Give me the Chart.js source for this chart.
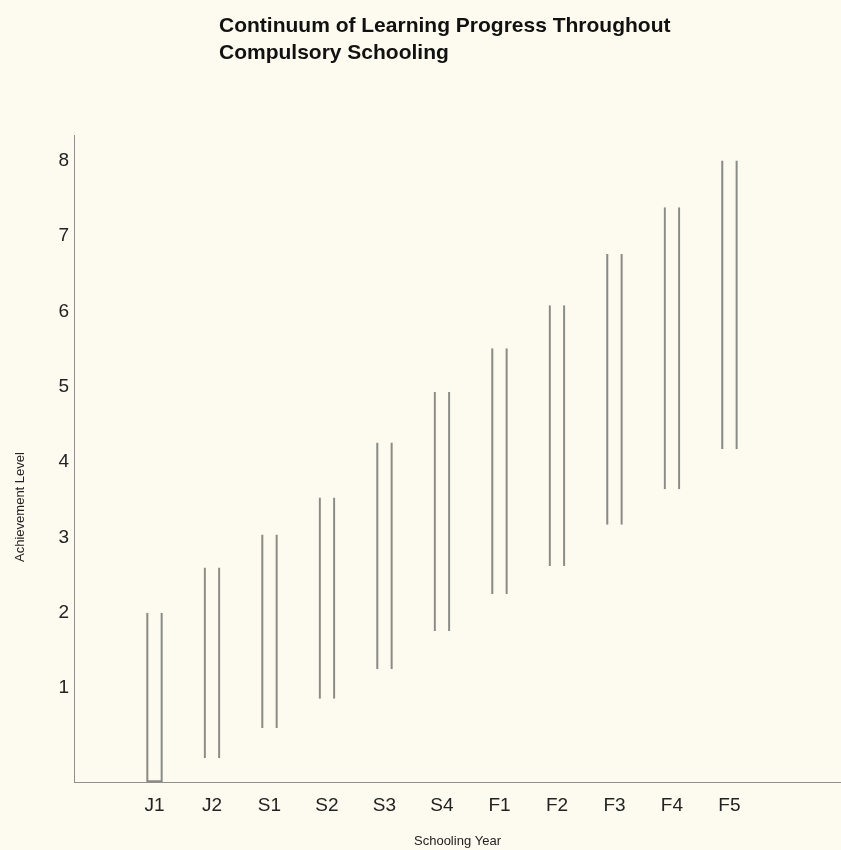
<!DOCTYPE html>
<html>
<head>
<meta charset="utf-8">
<script src="https://cdn.jsdelivr.net/npm/chart.js@4"></script>
<style>
  html, body { margin: 0; padding: 0; background: #fdfbef; }
  #wrap { width: 841px; height: 850px; }
</style>
</head>
<body>
<div id="wrap"><canvas id="myChart"></canvas></div>
<script>
// values
const years = ['J1', 'J2', 'S1', 'S2', 'S3', 'S4', 'F1', 'F2', 'F3', 'F4', 'F5'];
const lowLevels = [-0.245, 0.07, 0.47, 0.86, 1.25, 1.76, 2.25, 2.62, 3.17, 3.64, 4.17];
const highLevels = [2.0, 2.6, 3.04, 3.53, 4.26, 4.93, 5.51, 6.08, 6.76, 7.38, 8.0];
const levelTicks = [1, 2, 3, 4, 5, 6, 7, 8];
const titleLines = ['Continuum of Learning Progress Throughout', 'Compulsory Schooling'];

const fontName = '"Liberation Sans", Arial, Helvetica, sans-serif';
const lineColor = '#8a8a86';

// bars at 0..10 on a linear axis
const barData = years.map((y, i) => ({ x: i, y: [lowLevels[i], highLevels[i]] }));

const textPlugin = {
    id: 'textPlugin',
    beforeDraw(chart) {
        const ctx = chart.ctx;
        ctx.save();
        ctx.fillStyle = '#fdfbef';
        ctx.fillRect(0, 0, chart.width, chart.height);
        ctx.restore();
    },
    afterDraw(chart) {
        const ctx = chart.ctx;
        ctx.save();
        ctx.fillStyle = '#111';
        ctx.font = 'bold 21px ' + fontName;
        ctx.textBaseline = 'middle';
        ctx.textAlign = 'left';
        ctx.fillText(titleLines[0], 219, 26, 455);
        ctx.fillText(titleLines[1], 219, 53);

        // y axis title
        ctx.font = '13px ' + fontName;
        ctx.fillStyle = '#222';
        ctx.translate(20, 507);
        ctx.rotate(-Math.PI / 2);
        ctx.textAlign = 'center';
        ctx.fillText('Achievement Level', 0, 0);
        ctx.restore();
    }
};

const myChart = new Chart(document.getElementById('myChart'), {
    type: 'bar',
    data: {
        datasets: [{
            data: barData,
            backgroundColor: 'rgba(0,0,0,0)',
            borderColor: lineColor,
            borderSkipped: false,
            borderWidth: (c) => c.dataIndex === 0
                ? { left: 1.5, right: 1.5, top: 0, bottom: 1.5 }
                : { left: 1.5, right: 1.5, top: 0, bottom: 0 },
            barThickness: 16
        }]
    },
    options: {
        responsive: true,
        maintainAspectRatio: false,
        animation: false,
        layout: { padding: { top: 135, left: 0, right: 0, bottom: 0 } },
        plugins: {
            legend: { display: false },
            tooltip: { enabled: false }
        },
        scales: {
            x: {
                type: 'linear',
                offset: false,
                min: -1.4,
                max: 11.94,
                grid: { display: false, drawTicks: false },
                border: { display: true, color: '#8f8f8b', width: 1 },
                afterBuildTicks: (s) => { s.ticks = years.map((y, i) => ({ value: i })); },
                afterFit: (s) => { s.height = 68; },
                ticks: {
                    padding: 12,
                    color: '#222',
                    font: { family: fontName, size: 19 },
                    maxRotation: 0,
                    autoSkip: false,
                    callback: (v) => years[v]
                },
                title: {
                    display: true,
                    text: 'Schooling Year',
                    color: '#222',
                    font: { family: fontName, size: 13 },
                    padding: { top: 0, bottom: 1 }
                }
            },
            y: {
                min: -0.245,
                max: 8.34,
                grid: { display: false, drawTicks: false },
                border: { display: true, color: '#8f8f8b', width: 1 },
                afterBuildTicks: (s) => { s.ticks = levelTicks.map(v => ({ value: v })); },
                afterFit: (s) => { s.width = 74; },
                ticks: {
                    padding: 5,
                    color: '#222',
                    font: { family: fontName, size: 19 }
                }
            }
        }
    },
    plugins: [textPlugin]
});
</script>
</body>
</html>
